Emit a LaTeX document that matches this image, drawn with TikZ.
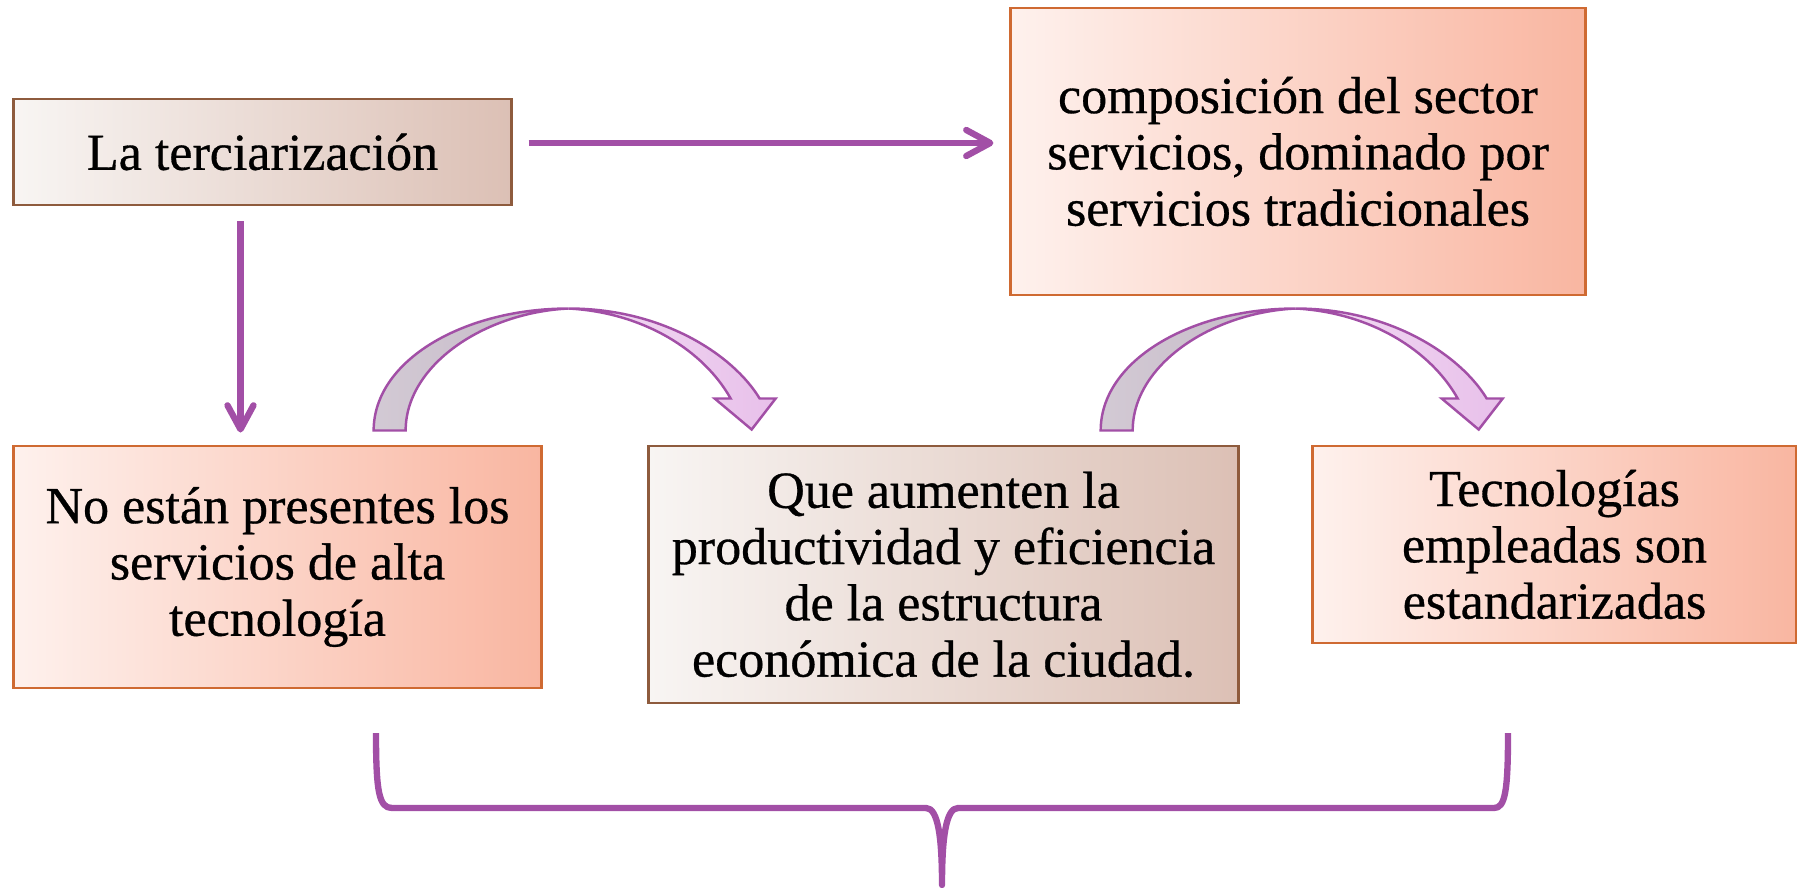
\documentclass[tikz,border=0pt]{standalone}
\usepackage{fontspec}
\setmainfont{Liberation Serif}[UprightFeatures={FakeBold=0.6}]
\usetikzlibrary{arrows.meta}
\definecolor{tanedge}{HTML}{8E5B3D}
\definecolor{tanleft}{HTML}{F8F5F3}
\definecolor{tanright}{HTML}{DCC0B5}
\definecolor{salmonedge}{HTML}{CF6A32}
\definecolor{salmonleft}{HTML}{FEF1ED}
\definecolor{salmonright}{HTML}{F9B6A1}
\definecolor{plum}{HTML}{A24FA6}
\definecolor{plumgrey}{HTML}{C4B8C6}
\definecolor{plumlight}{HTML}{E8C0EA}
\tikzset{
    tan-box/.style = {draw=tanedge, left color=tanleft, right color=tanright, line width=0.8pt, rectangle, inner sep=0pt, align=center, font=\fontsize{14.8}{16}\selectfont},
    salmon-box/.style = {draw=salmonedge, left color=salmonleft, right color=salmonright, line width=0.8pt, rectangle, inner sep=0pt, align=center, font=\fontsize{14.8}{16}\selectfont},
    flow-arrow/.style = {draw=plum, line width=1.8pt, -{Straight Barb[round, length=2.4mm, width=2.6mm]}},
    curved-arrow/.pic = {
        \filldraw[draw=plum, line width=0.7pt, left color=plumgrey!75!white, right color=plumgrey] (0,0) .. controls (0,70) and (90,122) .. (195,122) .. controls (110,118) and (32,65) .. (32,0) -- cycle;
        \filldraw[draw=plum, line width=0.7pt, left color=plumlight!55!white, right color=plumlight] (195,122) .. controls (290,122) and (360,75) .. (386,32) -- (402,32) -- (378,1) -- (341,32) -- (357,32) .. controls (330,80) and (270,118) .. (195,122) -- cycle;
    },
}

\begin{document}
\begin{tikzpicture}[x=0.01cm, y=0.01cm]
\useasboundingbox (0,0) rectangle (1797,887);

\node [tan-box, minimum width=4.97cm, minimum height=1.06cm] (term) at (262.5,735) {La terciarización};
\node [salmon-box, minimum width=5.74cm, minimum height=2.87cm] (sector) at (1298,735.5) {composición del sector\\ servicios, dominado por\\ servicios tradicionales};
\node [salmon-box, minimum width=5.27cm, minimum height=2.42cm] (nopres) at (277.5,320) {No están presentes los\\ servicios de alta\\ tecnología};
\node [tan-box, minimum width=5.89cm, minimum height=2.57cm] (aumento) at (943.5,312.5) {Que aumenten la\\ productividad y eficiencia\\ de la estructura\\ económica de la ciudad.};
\node [salmon-box, minimum width=4.83cm, minimum height=1.97cm] (tecno) at (1554.5,342.5) {Tecnologías\\ empleadas son\\ estandarizadas};

\draw [flow-arrow, shorten <=1.6mm, shorten >=1.6mm] ([yshift=0.9mm]term.east) -- ([yshift=0.9mm]term.east -| sector.west);
\draw [flow-arrow, shorten <=1.5mm, shorten >=1.2mm] ([xshift=-2.2mm]term.south) -- ([xshift=-2.2mm]term.south |- nopres.north);

\pic at ([xshift=3.61cm, yshift=0.14cm]nopres.north west) {curved-arrow};
\pic at ([xshift=4.53cm, yshift=0.14cm]aumento.north west) {curved-arrow};

\coordinate (brace-left) at (376,154);
\coordinate (brace-tip) at (942,2);
\coordinate (brace-right) at (1508,154);
\draw [plum, line width=1.8pt, line join=round] (brace-left) .. controls (376,95) and (379,79) .. (392,79) -- (926,79) .. controls (938,79) and (942,50) .. (brace-tip) .. controls (942,50) and (946,79) .. (958,79) -- (1494,79) .. controls (1505,79) and (1508,95) .. (brace-right);
\end{tikzpicture}
\end{document}
